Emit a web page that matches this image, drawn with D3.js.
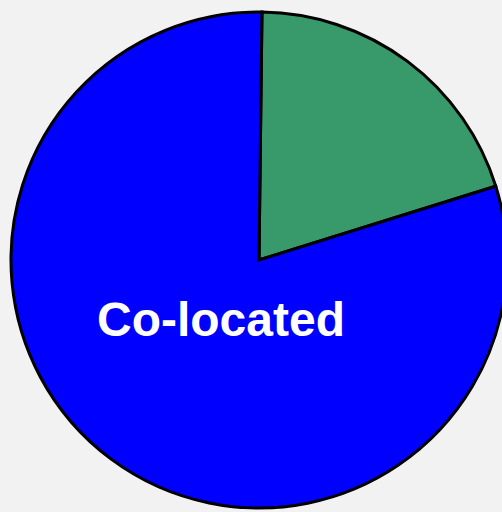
<!DOCTYPE html>
<html>
<head>
<meta charset="utf-8">
<script src="https://cdn.jsdelivr.net/npm/d3@7"></script>
<style>
  html, body { margin: 0; padding: 0; background: #f2f2f2; }
  svg { display: block; }
</style>
</head>
<body>
<div id="chart"></div>
<script>
// slices, clockwise from the top
const labels = ["Other", "Co-located"];
const values = [20, 80];
const colors = ["#389a6a", "#0000ff"];
const shown = ["", "Co-located"];

const width = 502, height = 512;
const cx = 259, cy = 260, radius = 248;

const svg = d3.select("#chart")
    .append("svg")
    .attr("width", width)
    .attr("height", height);

const g = svg.append("g")
    .attr("transform", `translate(${cx},${cy})`);

const pie = d3.pie()
    .sort(null)
    .value(function(d) { return d; })
    .startAngle(0.012)
    .endAngle(0.012 + 2 * Math.PI);

const arc = d3.arc().innerRadius(0).outerRadius(radius);

const arcs = pie(values);

g.selectAll("path")
    .data(arcs)
    .enter()
    .append("path")
    .attr("d", arc)
    .attr("fill", function(d, i) { return colors[i]; })
    .attr("stroke", "#000")
    .attr("stroke-width", 3)
    .attr("stroke-linejoin", "miter");

// label inside blue slice
svg.append("text")
    .attr("x", 221)
    .attr("y", 336)
    .attr("text-anchor", "middle")
    .attr("fill", "#fff")
    .attr("font-family", "Liberation Sans, Arial, sans-serif")
    .attr("font-weight", "bold")
    .attr("font-size", 48)
    .text(shown[1]);
</script>
</body>
</html>
